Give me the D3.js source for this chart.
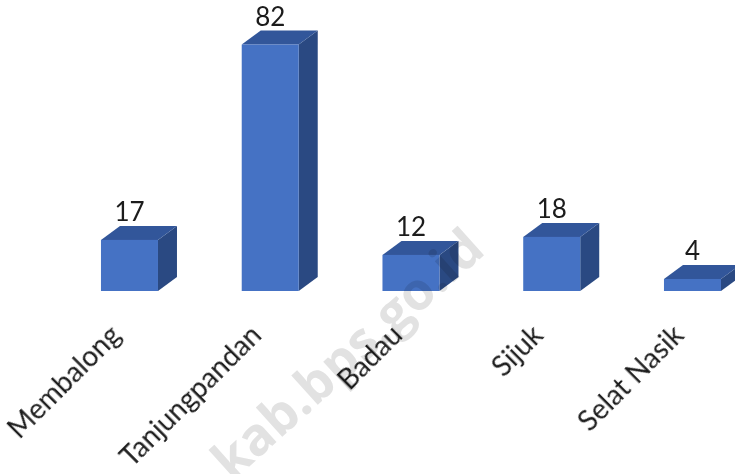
<!DOCTYPE html>
<html><head><meta charset="utf-8">
<script src="https://cdn.jsdelivr.net/npm/d3@7"></script>
<style>html,body{margin:0;padding:0;background:#fff}svg{display:block}
text{font-family:Lato,"Open Sans",sans-serif;fill:#1a1a1a}</style></head>
<body><svg id="c" width="735" height="474"></svg>
<script>
const categories = ["Membalong","Tanjungpandan","Badau","Sijuk","Selat Nasik"];
const values = [17,82,12,18,4];
const watermark = "kab.bps.go.id";

const svg = d3.select("#c");
const baseY = 291, dx = 19, dy = 14;
const x = d3.scaleBand().domain(categories).range([59.1, 762.85]).paddingInner(0.595).paddingOuter(0.2975);
const y = d3.scaleLinear().domain([0,82]).range([baseY,44.5]);
const rows = categories.map((c,i)=>({c,v:values[i]}));

const f = svg.append("defs").append("filter").attr("id","soft");
f.append("feGaussianBlur").attr("stdDeviation",0.5);
const ft = svg.select("defs").append("filter").attr("id","softText");
ft.append("feGaussianBlur").attr("stdDeviation",0.35);

const g = svg.append("g").attr("filter","url(#soft)");
const bars = g.selectAll("g.bar").data(rows).join("g").attr("class","bar");
bars.append("path").attr("fill","#2b4a82").attr("d",d=>{
  const r=x(d.c)+x.bandwidth(),t=y(d.v);
  return d3.line()([[r,t],[r+dx,t-dy],[r+dx,baseY-dy],[r,baseY]])+"Z";});
bars.append("path").attr("fill","#33579a").attr("d",d=>{
  const l=x(d.c),r=l+x.bandwidth(),t=y(d.v);
  return d3.line()([[l,t],[l+dx,t-dy],[r+dx,t-dy],[r,t]])+"Z";});
bars.append("rect").attr("fill","#4472c4")
  .attr("x",d=>x(d.c)).attr("y",d=>y(d.v)).attr("width",x.bandwidth()).attr("height",d=>baseY-y(d.v));

svg.selectAll("text.val").data(rows).join("text").attr("class","val")
  .attr("x",d=>x(d.c)+x.bandwidth()/2).attr("y",d=>y(d.v)-19)
  .attr("text-anchor","middle").attr("font-size",26).attr("filter","url(#softText)").text(d=>d.v);

svg.selectAll("text.cat").data(categories).join("text").attr("class","cat")
  .attr("transform",d=>`translate(${x(d)+x.bandwidth()/2-7},${337}) rotate(-45)`)
  .attr("text-anchor","end").attr("font-size",28).attr("filter","url(#softText)").text(d=>d);

svg.append("text").text(watermark)
  .attr("transform","translate(232,482) rotate(-42)")
  .attr("font-size",52).attr("font-weight",700)
  .style("fill","#e2e2e2").style("font-family","'Open Sans',sans-serif")
  .style("mix-blend-mode","multiply");
</script></body></html>
